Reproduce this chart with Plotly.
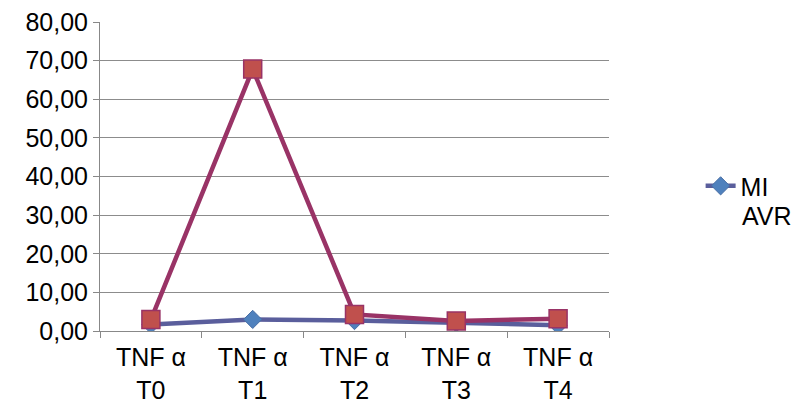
import plotly.graph_objects as go

categories = ["TNF α<br>T0", "TNF α<br>T1", "TNF α<br>T2", "TNF α<br>T3", "TNF α<br>T4"]
mi_values = [1.7, 3.0, 2.7, 2.1, 1.5]
avr_values = [2.95, 67.8, 4.3, 2.6, 3.2]
y_ticks = [0, 10, 20, 30, 40, 50, 60, 70, 80]

fig = go.Figure()

fig.add_trace(go.Scatter(
    x=categories, y=mi_values, name="MI", mode="lines+markers",
    line=dict(color="#5A5E9C", width=4.5),
    marker=dict(symbol="diamond", size=14, color="#4F81BD",
                line=dict(color="#4A6FA5", width=1)),
))
fig.add_trace(go.Scatter(
    x=categories, y=avr_values, name="AVR", mode="lines+markers",
    showlegend=False,
    line=dict(color="#993366", width=4.5),
    marker=dict(symbol="square", size=18, color="#C0504D",
                line=dict(color="#993366", width=1.5)),
))

# second legend line (text only, no symbol)
fig.add_annotation(
    text="AVR", xref="paper", yref="paper", x=1.257, y=0.372,
    xanchor="left", yanchor="middle", showarrow=False,
    font=dict(size=25, color="black"),
)

fig.update_layout(
    width=806, height=404,
    margin=dict(l=100, r=197, t=22, b=73),
    paper_bgcolor="white", plot_bgcolor="white",
    separators=",.",
    font=dict(family="Liberation Sans, Arial, sans-serif", size=25, color="black"),
    showlegend=True,
    legend=dict(x=1.18, y=0.469, xanchor="left", yanchor="middle",
                font=dict(size=25), bgcolor="rgba(0,0,0,0)",
                itemwidth=30),
    xaxis=dict(
        type="category", range=[-0.5, 4.5], tickson="boundaries",
        ticks="outside", ticklen=6, automargin=False, ticklabelstandoff=4,
        tickcolor="#888888", showline=True, linecolor="#888888", linewidth=1,
        showgrid=False, tickfont=dict(size=25),
    ),
    yaxis=dict(
        range=[0, 80], tickvals=y_ticks, tickformat=".2f",
        ticks="outside", ticklen=6, tickcolor="#888888", automargin=False,
        showline=True, linecolor="#888888", linewidth=1,
        showgrid=True, gridcolor="#8c8c8c", gridwidth=1,
        zeroline=False, tickfont=dict(size=25),
    ),
)

fig.write_html("out.html")
